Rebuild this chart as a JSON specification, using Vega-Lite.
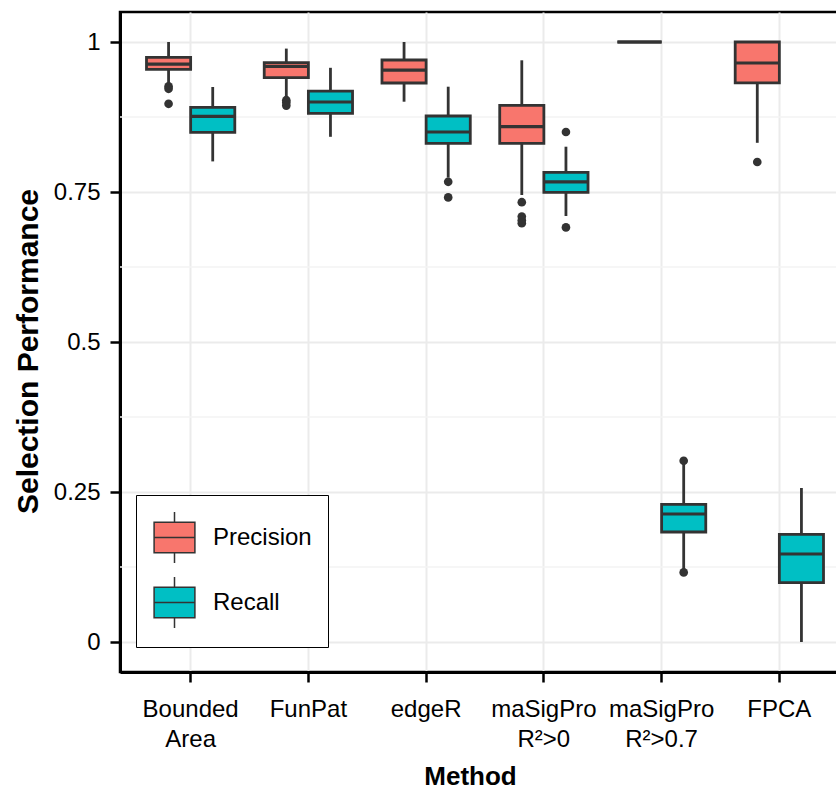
{
  "$schema": "https://vega.github.io/schema/vega-lite/v6.json",
  "width": 730,
  "height": 660,
  "autosize": {"type": "none"},
  "padding": {"left": 120, "top": 12, "right": 0, "bottom": 119},
  "config": {
    "font": "Liberation Sans",
    "view": {"stroke": "black", "strokeWidth": 2.5},
    "axis": {
      "labelFontSize": 24, "labelColor": "black",
      "tickSize": 10, "tickWidth": 2.5, "tickColor": "black",
      "domainColor": "black", "domainWidth": 3,
      "grid": true, "gridColor": "#ebebeb", "gridWidth": 2,
      "titleColor": "black", "titleFontWeight": "bold"
    },
    "axisY": {"labelFontSize": 24, "labelPadding": 10}
  },
  "datasets": {
    "minor": [{"v": 0.125}, {"v": 0.375}, {"v": 0.625}, {"v": 0.875}],
    "boxes": [
      {"Method": "Bounded Area", "Group": "Precision", "lo": 0.93, "q1": 0.9545, "median": 0.963, "q3": 0.9745, "hi": 1.0},
      {"Method": "Bounded Area", "Group": "Recall", "lo": 0.801, "q1": 0.8495, "median": 0.876, "q3": 0.891, "hi": 0.925},
      {"Method": "FunPat", "Group": "Precision", "lo": 0.908, "q1": 0.9405, "median": 0.9595, "q3": 0.9655, "hi": 0.989},
      {"Method": "FunPat", "Group": "Recall", "lo": 0.842, "q1": 0.881, "median": 0.9, "q3": 0.918, "hi": 0.957},
      {"Method": "edgeR", "Group": "Precision", "lo": 0.9005, "q1": 0.9317, "median": 0.953, "q3": 0.97, "hi": 1.0},
      {"Method": "edgeR", "Group": "Recall", "lo": 0.774, "q1": 0.831, "median": 0.85, "q3": 0.8767, "hi": 0.9255},
      {"Method": "maSigPro R²>0", "Group": "Precision", "lo": 0.745, "q1": 0.831, "median": 0.859, "q3": 0.8945, "hi": 0.9695},
      {"Method": "maSigPro R²>0", "Group": "Recall", "lo": 0.71, "q1": 0.7495, "median": 0.767, "q3": 0.7828, "hi": 0.8255},
      {"Method": "maSigPro R²>0.7", "Group": "Precision", "lo": 1.0, "q1": 1.0, "median": 1.0, "q3": 1.0, "hi": 1.0},
      {"Method": "maSigPro R²>0.7", "Group": "Recall", "lo": 0.12, "q1": 0.1833, "median": 0.2133, "q3": 0.2295, "hi": 0.298},
      {"Method": "FPCA", "Group": "Precision", "lo": 0.832, "q1": 0.932, "median": 0.965, "q3": 1.0, "hi": 1.0},
      {"Method": "FPCA", "Group": "Recall", "lo": 0.0, "q1": 0.0988, "median": 0.1467, "q3": 0.1795, "hi": 0.2567}
    ],
    "outliers": [
      {"Method": "Bounded Area", "Group": "Precision", "value": 0.926},
      {"Method": "Bounded Area", "Group": "Precision", "value": 0.922},
      {"Method": "Bounded Area", "Group": "Precision", "value": 0.897},
      {"Method": "FunPat", "Group": "Precision", "value": 0.903},
      {"Method": "FunPat", "Group": "Precision", "value": 0.899},
      {"Method": "FunPat", "Group": "Precision", "value": 0.894},
      {"Method": "edgeR", "Group": "Recall", "value": 0.767},
      {"Method": "edgeR", "Group": "Recall", "value": 0.741},
      {"Method": "maSigPro R²>0", "Group": "Precision", "value": 0.733},
      {"Method": "maSigPro R²>0", "Group": "Precision", "value": 0.709},
      {"Method": "maSigPro R²>0", "Group": "Precision", "value": 0.703},
      {"Method": "maSigPro R²>0", "Group": "Precision", "value": 0.698},
      {"Method": "maSigPro R²>0", "Group": "Recall", "value": 0.85},
      {"Method": "maSigPro R²>0", "Group": "Recall", "value": 0.691},
      {"Method": "maSigPro R²>0.7", "Group": "Recall", "value": 0.302},
      {"Method": "maSigPro R²>0.7", "Group": "Recall", "value": 0.116},
      {"Method": "FPCA", "Group": "Precision", "value": 0.8}
    ]
  },
  "layer": [
    {
      "data": {"name": "minor"},
      "mark": {"type": "rule", "color": "#f3f3f3", "strokeWidth": 1.5},
      "encoding": {
        "y": {
          "field": "v", "type": "quantitative",
          "scale": {"domain": [-0.05, 1.05], "nice": false, "zero": false},
          "axis": {
            "title": "Selection Performance",
            "titleFontSize": 30,
            "titleX": -92, "titleY": 339, "titleAngle": -90, "titleAlign": "center", "titleBaseline": "middle",
            "values": [0, 0.25, 0.5, 0.75, 1], "format": "~g",
            "labelFontSize": 24, "labelPadding": 10
          }
        }
      }
    },
    {
      "data": {"name": "boxes"},
      "mark": {"type": "rule", "color": "#333333", "strokeWidth": 2.8},
      "encoding": {
        "x": {
          "field": "Method", "type": "nominal",
          "sort": ["Bounded Area", "FunPat", "edgeR", "maSigPro R²>0", "maSigPro R²>0.7", "FPCA"],
          "scale": {"paddingInner": 0.25, "paddingOuter": 0.225},
          "axis": {
            "title": "Method",
            "titleFontSize": 26,
            "titleX": 350, "titleY": 112, "titleAlign": "center", "titleBaseline": "alphabetic",
            "labelExpr": "split(datum.label, ' ')",
            "labelAngle": 0, "labelLineHeight": 30, "labelPadding": 15,
            "bandPosition": 0.5
          }
        },
        "xOffset": {"field": "Group", "type": "nominal", "sort": ["Precision", "Recall"], "scale": {"paddingInner": 0, "paddingOuter": 0}},
        "y": {"field": "lo", "type": "quantitative"},
        "y2": {"field": "hi"}
      }
    },
    {
      "data": {"name": "boxes"},
      "mark": {"type": "bar", "stroke": "#333333", "strokeWidth": 2.8, "opacity": 1},
      "encoding": {
        "x": {"field": "Method", "type": "nominal", "sort": ["Bounded Area", "FunPat", "edgeR", "maSigPro R²>0", "maSigPro R²>0.7", "FPCA"]},
        "xOffset": {"field": "Group", "type": "nominal", "sort": ["Precision", "Recall"]},
        "y": {"field": "q1", "type": "quantitative"},
        "y2": {"field": "q3"},
        "fill": {
          "field": "Group", "type": "nominal",
          "scale": {"domain": ["Precision", "Recall"], "range": ["#F8766D", "#00BFC4"]},
          "legend": {
            "title": null, "orient": "none", "legendX": 16, "legendY": 483,
            "padding": 16, "rowPadding": 8,
            "symbolType": "M-0.8,-0.6H0.8V0.6H-0.8Z M-0.8,0H0.8 M0,-0.6V-1 M0,0.6V1",
            "symbolSize": 2601, "symbolStrokeColor": "#333333", "symbolStrokeWidth": 1.5, "symbolOpacity": 1,
            "symbolOffset": -4,
            "labelFontSize": 24, "labelColor": "black", "labelOffset": 12,
            "strokeColor": "black", "fillColor": "white"
          }
        }
      }
    },
    {
      "data": {"name": "boxes"},
      "mark": {"type": "bar", "stroke": "#333333", "strokeWidth": 3.2, "fillOpacity": 0},
      "encoding": {
        "x": {"field": "Method", "type": "nominal", "sort": ["Bounded Area", "FunPat", "edgeR", "maSigPro R²>0", "maSigPro R²>0.7", "FPCA"]},
        "xOffset": {"field": "Group", "type": "nominal", "sort": ["Precision", "Recall"]},
        "y": {"field": "median", "type": "quantitative"},
        "y2": {"field": "median"}
      }
    },
    {
      "data": {"name": "outliers"},
      "mark": {"type": "point", "filled": true, "color": "#333333", "size": 75, "opacity": 1},
      "encoding": {
        "x": {"field": "Method", "type": "nominal", "sort": ["Bounded Area", "FunPat", "edgeR", "maSigPro R²>0", "maSigPro R²>0.7", "FPCA"]},
        "xOffset": {"field": "Group", "type": "nominal", "sort": ["Precision", "Recall"]},
        "y": {"field": "value", "type": "quantitative"}
      }
    }
  ]
}
